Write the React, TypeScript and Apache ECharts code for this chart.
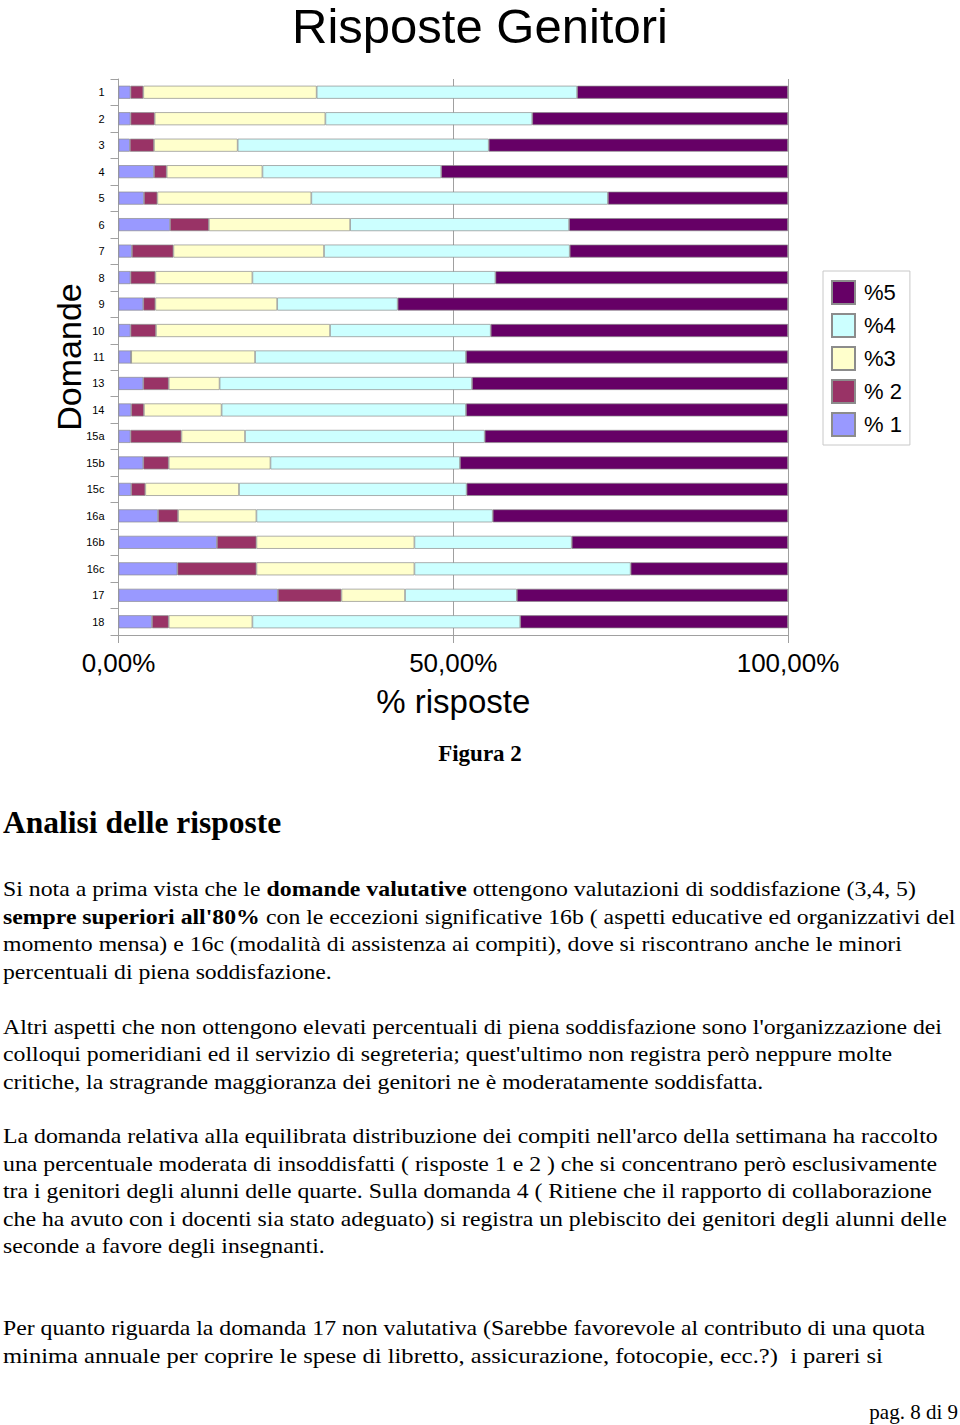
import React, { useEffect, useRef } from "react";
import * as echarts from "echarts";

// ---------- DATA ----------
const categories = ["1", "2", "3", "4", "5", "6", "7", "8", "9", "10", "11", "13", "14", "15a", "15b", "15c", "16a", "16b", "16c", "17", "18"];
const seriesNames = ["% 1", "% 2", "%3", "%4", "%5"];
const legendOrder = ["%5", "%4", "%3", "% 2", "% 1"];
const pct1 = [1.8, 1.8, 1.7, 5.3, 3.8, 7.7, 2.0, 1.8, 3.7, 1.8, 1.9, 3.7, 1.9, 1.8, 3.7, 1.9, 5.9, 14.7, 8.8, 23.8, 5.0];
const pct2 = [1.9, 3.6, 3.6, 1.9, 2.0, 5.8, 6.2, 3.7, 1.8, 3.8, 0, 3.8, 1.9, 7.6, 3.8, 2.1, 3.0, 5.9, 11.8, 9.5, 2.5];
const pct3 = [25.9, 25.5, 12.5, 14.3, 23.0, 21.1, 22.5, 14.5, 18.2, 26.0, 18.5, 7.6, 11.6, 9.5, 15.2, 14.0, 11.7, 23.6, 23.6, 9.5, 12.5];
const pct4 = [38.9, 30.9, 37.5, 26.7, 44.3, 32.7, 36.7, 36.3, 18.0, 24.0, 31.5, 37.7, 36.5, 35.8, 28.3, 34.0, 35.3, 23.5, 32.3, 16.7, 40.0];
const pct5 = [31.5, 38.2, 44.7, 51.8, 26.9, 32.7, 32.6, 43.7, 58.3, 44.4, 48.1, 47.2, 48.1, 45.3, 49.0, 48.0, 44.1, 32.3, 23.5, 40.5, 40.0];
const seriesValues = [pct1, pct2, pct3, pct4, pct5];

const chartTitle = "Risposte Genitori";
const xAxisName = "% risposte";
const yAxisName = "Domande";
const figureCaption = "Figura 2";
const sectionHeading = "Analisi delle risposte";
const pageFooter = "pag. 8 di 9";

const paragraphLines: string[] = [
  "Si nota a prima vista che le {b|domande valutative} ottengono valutazioni di soddisfazione (3,4, 5)",
  "{b|sempre superiori all'80%} con le eccezioni significative 16b ( aspetti educative ed organizzativi del",
  "momento mensa) e 16c (modalità di assistenza ai compiti), dove si riscontrano anche le minori",
  "percentuali di piena soddisfazione.",
  "Altri aspetti che non ottengono elevati percentuali di piena soddisfazione sono l'organizzazione dei",
  "colloqui pomeridiani ed il servizio di segreteria; quest'ultimo non registra però neppure molte",
  "critiche, la stragrande maggioranza dei genitori ne è moderatamente soddisfatta.",
  "La domanda relativa alla equilibrata distribuzione dei compiti nell'arco della settimana ha raccolto",
  "una percentuale moderata di insoddisfatti ( risposte 1 e 2 ) che si concentrano però esclusivamente",
  "tra i genitori degli alunni delle quarte. Sulla domanda 4 ( Ritiene che il rapporto di collaborazione",
  "che ha avuto con i docenti sia stato adeguato) si registra un plebiscito dei genitori degli alunni delle",
  "seconde a favore degli insegnanti.",
  "Per quanto riguarda la domanda 17 non valutativa (Sarebbe favorevole al contributo di una quota",
  "minima annuale per coprire le spese di libretto, assicurazione, fotocopie, ecc.?)  i pareri si",
];

// ---------- LAYOUT (positions, not data) ----------
const lineYs = [889, 917, 944, 972, 1027, 1054, 1082, 1136, 1164, 1191, 1219, 1246, 1328, 1356];
const lineRights = [916, 956, 903, 332, 943, 893, 764, 938, 938, 933, 948, 325, 926, 883];

const COLORS = ["#9999FF", "#993366", "#FFFFCC", "#CCFFFF", "#660066"];
const SANS = "Liberation Sans";
const SERIF = "Liberation Serif";
const TEXT_SIZE = 21;

function measureLine(line: string, size: number): number {
  const canvas = document.createElement("canvas");
  const ctx = canvas.getContext("2d");
  if (!ctx) return 1;
  const re = /\{b\|([^}]*)\}/g;
  let last = 0;
  let w = 0;
  let m: RegExpExecArray | null;
  while ((m = re.exec(line)) !== null) {
    ctx.font = `normal ${size}px "${SERIF}"`;
    w += ctx.measureText(line.slice(last, m.index)).width;
    ctx.font = `bold ${size}px "${SERIF}"`;
    w += ctx.measureText(m[1]).width;
    last = m.index + m[0].length;
  }
  ctx.font = `normal ${size}px "${SERIF}"`;
  w += ctx.measureText(line.slice(last)).width;
  return w;
}

export default function App() {
  const ref = useRef<HTMLDivElement>(null);
  useEffect(() => {
    if (!ref.current) return;
    const chart = echarts.init(ref.current, undefined, { renderer: "svg" });

    const textLeft = 3;
    const textGraphics = paragraphLines.map((line, i) => {
      const measured = measureLine(line, TEXT_SIZE);
      const target = lineRights[i] - textLeft;
      const sx = measured > 0 ? target / measured : 1;
      return {
        type: "text",
        x: textLeft,
        y: lineYs[i],
        scaleX: sx,
        style: {
          text: line,
          fontFamily: SERIF,
          fontSize: TEXT_SIZE,
          fill: "#000",
          textAlign: "left",
          textVerticalAlign: "middle",
          rich: {
            b: { fontFamily: SERIF, fontSize: TEXT_SIZE, fontWeight: "bold", fill: "#000" },
          },
        },
      };
    });

    const option: any = {
      animation: false,
      backgroundColor: "#ffffff",
      textStyle: { fontFamily: SANS },
      grid: { left: 118.5, right: 172, top: 79, bottom: 790 },
      legend: {
        data: legendOrder,
        orient: "vertical",
        left: 823,
        top: 271,
        padding: [9, 8, 8, 8],
        itemWidth: 23,
        itemHeight: 23,
        itemGap: 8,
        icon: "rect",
        borderColor: "#c8c8c8",
        borderWidth: 1,
        textStyle: { fontFamily: SANS, fontSize: 22, lineHeight: 23, color: "#000", padding: [0, 0, 0, 4] },
      },
      xAxis: {
        type: "value",
        min: 0,
        max: 100,
        interval: 50,
        name: xAxisName,
        nameLocation: "middle",
        nameGap: 50,
        nameTextStyle: { fontFamily: SANS, fontSize: 33, color: "#000" },
        axisLine: { show: true, lineStyle: { color: "#a0a0a0", width: 1 } },
        axisTick: { show: true, length: 8, lineStyle: { color: "#a0a0a0" } },
        splitLine: { show: true, lineStyle: { color: "#a0a0a0", width: 1 } },
        axisLabel: {
          fontFamily: SANS,
          fontSize: 26,
          color: "#000",
          margin: 15,
          formatter: (v: number) => v.toFixed(2).replace(".", ",") + "%",
        },
      },
      yAxis: {
        type: "category",
        data: categories,
        inverse: true,
        name: yAxisName,
        nameLocation: "middle",
        nameGap: 33,
        nameMoveOverlap: false,
        nameRotate: 90,
        nameTextStyle: { fontFamily: SANS, fontSize: 34, color: "#000" },
        axisLine: { show: true, lineStyle: { color: "#a0a0a0", width: 1 } },
        axisTick: { show: true, length: 8, lineStyle: { color: "#a0a0a0" } },
        splitLine: { show: false },
        axisLabel: { fontFamily: SANS, fontSize: 11, color: "#000", margin: 14 },
      },
      series: seriesNames.map((name, i) => ({
        name,
        type: "bar",
        stack: "total",
        barWidth: 13,
        data: seriesValues[i],
        itemStyle: { color: COLORS[i], borderColor: "#8c8c8c", borderWidth: 0.7 },
      })),
      graphic: [
        {
          type: "text",
          x: 480,
          y: 26,
          style: {
            text: chartTitle,
            fontFamily: SANS,
            fontSize: 49,
            fill: "#000",
            textAlign: "center",
            textVerticalAlign: "middle",
          },
        },
        {
          type: "text",
          x: 480,
          y: 753,
          style: {
            text: figureCaption,
            fontFamily: SERIF,
            fontSize: 23,
            fontWeight: "bold",
            fill: "#000",
            textAlign: "center",
            textVerticalAlign: "middle",
          },
        },
        {
          type: "text",
          x: 3,
          y: 822,
          style: {
            text: sectionHeading,
            fontFamily: SERIF,
            fontSize: 31.5,
            fontWeight: "bold",
            fill: "#000",
            textAlign: "left",
            textVerticalAlign: "middle",
          },
        },
        ...textGraphics,
        {
          type: "text",
          x: 958,
          y: 1412,
          style: {
            text: pageFooter,
            fontFamily: SERIF,
            fontSize: 21,
            fill: "#000",
            textAlign: "right",
            textVerticalAlign: "middle",
          },
        },
      ],
    };
    chart.setOption(option);
    return () => chart.dispose();
  }, []);

  return (
    <div
      ref={ref}
      style={{ position: "absolute", left: 0, top: 0, width: 960, height: 1425, background: "#fff" }}
    />
  );
}
